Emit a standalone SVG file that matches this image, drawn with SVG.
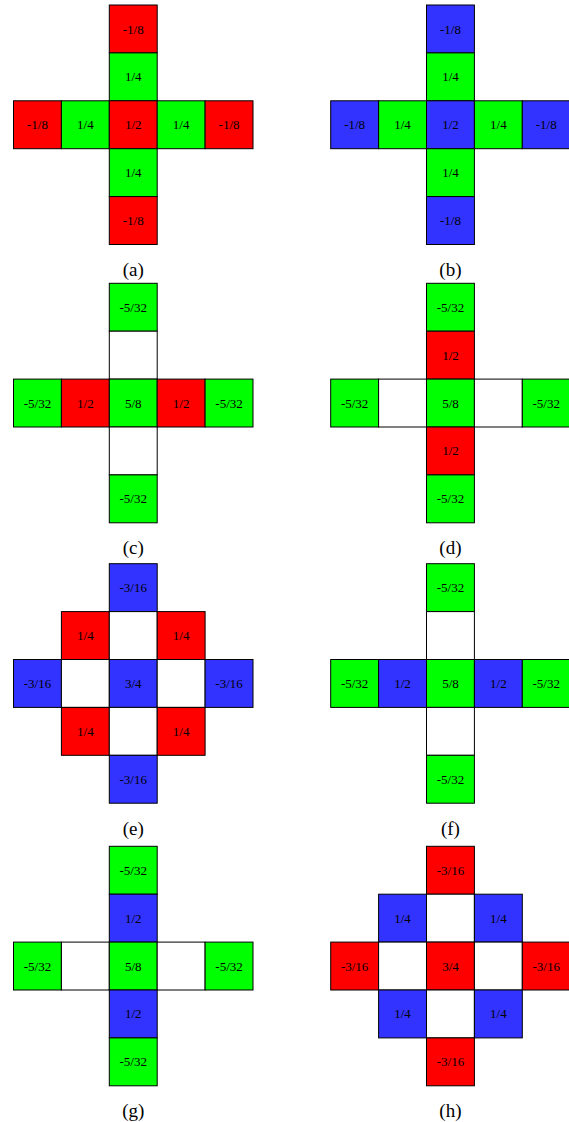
<svg xmlns="http://www.w3.org/2000/svg" width="569" height="1122" viewBox="0 0 569 1122">
<style>
.r,.g,.b,.w{stroke:#000;stroke-width:1}
.r{fill:#FF0000}.g{fill:#00FF00}.b{fill:#3333FF}.w{fill:#FFFFFF}
text{font-family:"Liberation Serif","Times New Roman",serif;fill:#000;text-anchor:middle}
.t{font-size:13px}
.cap{font-size:19px}
</style>
<g id="panel-a" transform="translate(13.5,5)">
<rect class="r" x="95.8" y="0" width="47.9" height="47.9"/><text class="t" x="119.75" y="28.5">-1/8</text>
<rect class="g" x="95.8" y="47.9" width="47.9" height="47.9"/><text class="t" x="119.75" y="76.4">1/4</text>
<rect class="r" x="0" y="95.8" width="47.9" height="47.9"/><text class="t" x="23.95" y="124.3">-1/8</text>
<rect class="g" x="47.9" y="95.8" width="47.9" height="47.9"/><text class="t" x="71.85" y="124.3">1/4</text>
<rect class="r" x="95.8" y="95.8" width="47.9" height="47.9"/><text class="t" x="119.75" y="124.3">1/2</text>
<rect class="g" x="143.7" y="95.8" width="47.9" height="47.9"/><text class="t" x="167.65" y="124.3">1/4</text>
<rect class="r" x="191.6" y="95.8" width="47.9" height="47.9"/><text class="t" x="215.55" y="124.3">-1/8</text>
<rect class="g" x="95.8" y="143.7" width="47.9" height="47.9"/><text class="t" x="119.75" y="172.2">1/4</text>
<rect class="r" x="95.8" y="191.6" width="47.9" height="47.9"/><text class="t" x="119.75" y="220.1">-1/8</text>
<text class="cap" x="119.75" y="271">(a)</text>
</g>
<g id="panel-b" transform="translate(330.7,5)">
<rect class="b" x="95.8" y="0" width="47.9" height="47.9"/><text class="t" x="119.75" y="28.5">-1/8</text>
<rect class="g" x="95.8" y="47.9" width="47.9" height="47.9"/><text class="t" x="119.75" y="76.4">1/4</text>
<rect class="b" x="0" y="95.8" width="47.9" height="47.9"/><text class="t" x="23.95" y="124.3">-1/8</text>
<rect class="g" x="47.9" y="95.8" width="47.9" height="47.9"/><text class="t" x="71.85" y="124.3">1/4</text>
<rect class="b" x="95.8" y="95.8" width="47.9" height="47.9"/><text class="t" x="119.75" y="124.3">1/2</text>
<rect class="g" x="143.7" y="95.8" width="47.9" height="47.9"/><text class="t" x="167.65" y="124.3">1/4</text>
<rect class="b" x="191.6" y="95.8" width="47.9" height="47.9"/><text class="t" x="215.55" y="124.3">-1/8</text>
<rect class="g" x="95.8" y="143.7" width="47.9" height="47.9"/><text class="t" x="119.75" y="172.2">1/4</text>
<rect class="b" x="95.8" y="191.6" width="47.9" height="47.9"/><text class="t" x="119.75" y="220.1">-1/8</text>
<text class="cap" x="119.75" y="271">(b)</text>
</g>
<g id="panel-c" transform="translate(13.5,283.3)">
<rect class="g" x="95.8" y="0" width="47.9" height="47.9"/><text class="t" x="119.75" y="28.5">-5/32</text>
<rect class="w" x="95.8" y="47.9" width="47.9" height="47.9"/>
<rect class="g" x="0" y="95.8" width="47.9" height="47.9"/><text class="t" x="23.95" y="124.3">-5/32</text>
<rect class="r" x="47.9" y="95.8" width="47.9" height="47.9"/><text class="t" x="71.85" y="124.3">1/2</text>
<rect class="g" x="95.8" y="95.8" width="47.9" height="47.9"/><text class="t" x="119.75" y="124.3">5/8</text>
<rect class="r" x="143.7" y="95.8" width="47.9" height="47.9"/><text class="t" x="167.65" y="124.3">1/2</text>
<rect class="g" x="191.6" y="95.8" width="47.9" height="47.9"/><text class="t" x="215.55" y="124.3">-5/32</text>
<rect class="w" x="95.8" y="143.7" width="47.9" height="47.9"/>
<rect class="g" x="95.8" y="191.6" width="47.9" height="47.9"/><text class="t" x="119.75" y="220.1">-5/32</text>
<text class="cap" x="119.75" y="271">(c)</text>
</g>
<g id="panel-d" transform="translate(330.7,283.3)">
<rect class="g" x="95.8" y="0" width="47.9" height="47.9"/><text class="t" x="119.75" y="28.5">-5/32</text>
<rect class="r" x="95.8" y="47.9" width="47.9" height="47.9"/><text class="t" x="119.75" y="76.4">1/2</text>
<rect class="g" x="0" y="95.8" width="47.9" height="47.9"/><text class="t" x="23.95" y="124.3">-5/32</text>
<rect class="w" x="47.9" y="95.8" width="47.9" height="47.9"/>
<rect class="g" x="95.8" y="95.8" width="47.9" height="47.9"/><text class="t" x="119.75" y="124.3">5/8</text>
<rect class="w" x="143.7" y="95.8" width="47.9" height="47.9"/>
<rect class="g" x="191.6" y="95.8" width="47.9" height="47.9"/><text class="t" x="215.55" y="124.3">-5/32</text>
<rect class="r" x="95.8" y="143.7" width="47.9" height="47.9"/><text class="t" x="119.75" y="172.2">1/2</text>
<rect class="g" x="95.8" y="191.6" width="47.9" height="47.9"/><text class="t" x="119.75" y="220.1">-5/32</text>
<text class="cap" x="119.75" y="271">(d)</text>
</g>
<g id="panel-e" transform="translate(13.5,563.7)">
<rect class="b" x="95.8" y="0" width="47.9" height="47.9"/><text class="t" x="119.75" y="28.5">-3/16</text>
<rect class="r" x="47.9" y="47.9" width="47.9" height="47.9"/><text class="t" x="71.85" y="76.4">1/4</text>
<rect class="w" x="95.8" y="47.9" width="47.9" height="47.9"/>
<rect class="r" x="143.7" y="47.9" width="47.9" height="47.9"/><text class="t" x="167.65" y="76.4">1/4</text>
<rect class="b" x="0" y="95.8" width="47.9" height="47.9"/><text class="t" x="23.95" y="124.3">-3/16</text>
<rect class="w" x="47.9" y="95.8" width="47.9" height="47.9"/>
<rect class="b" x="95.8" y="95.8" width="47.9" height="47.9"/><text class="t" x="119.75" y="124.3">3/4</text>
<rect class="w" x="143.7" y="95.8" width="47.9" height="47.9"/>
<rect class="b" x="191.6" y="95.8" width="47.9" height="47.9"/><text class="t" x="215.55" y="124.3">-3/16</text>
<rect class="r" x="47.9" y="143.7" width="47.9" height="47.9"/><text class="t" x="71.85" y="172.2">1/4</text>
<rect class="w" x="95.8" y="143.7" width="47.9" height="47.9"/>
<rect class="r" x="143.7" y="143.7" width="47.9" height="47.9"/><text class="t" x="167.65" y="172.2">1/4</text>
<rect class="b" x="95.8" y="191.6" width="47.9" height="47.9"/><text class="t" x="119.75" y="220.1">-3/16</text>
<text class="cap" x="119.75" y="271">(e)</text>
</g>
<g id="panel-f" transform="translate(330.7,563.7)">
<rect class="g" x="95.8" y="0" width="47.9" height="47.9"/><text class="t" x="119.75" y="28.5">-5/32</text>
<rect class="w" x="95.8" y="47.9" width="47.9" height="47.9"/>
<rect class="g" x="0" y="95.8" width="47.9" height="47.9"/><text class="t" x="23.95" y="124.3">-5/32</text>
<rect class="b" x="47.9" y="95.8" width="47.9" height="47.9"/><text class="t" x="71.85" y="124.3">1/2</text>
<rect class="g" x="95.8" y="95.8" width="47.9" height="47.9"/><text class="t" x="119.75" y="124.3">5/8</text>
<rect class="b" x="143.7" y="95.8" width="47.9" height="47.9"/><text class="t" x="167.65" y="124.3">1/2</text>
<rect class="g" x="191.6" y="95.8" width="47.9" height="47.9"/><text class="t" x="215.55" y="124.3">-5/32</text>
<rect class="w" x="95.8" y="143.7" width="47.9" height="47.9"/>
<rect class="g" x="95.8" y="191.6" width="47.9" height="47.9"/><text class="t" x="119.75" y="220.1">-5/32</text>
<text class="cap" x="119.75" y="271">(f)</text>
</g>
<g id="panel-g" transform="translate(13.5,846.3)">
<rect class="g" x="95.8" y="0" width="47.9" height="47.9"/><text class="t" x="119.75" y="28.5">-5/32</text>
<rect class="b" x="95.8" y="47.9" width="47.9" height="47.9"/><text class="t" x="119.75" y="76.4">1/2</text>
<rect class="g" x="0" y="95.8" width="47.9" height="47.9"/><text class="t" x="23.95" y="124.3">-5/32</text>
<rect class="w" x="47.9" y="95.8" width="47.9" height="47.9"/>
<rect class="g" x="95.8" y="95.8" width="47.9" height="47.9"/><text class="t" x="119.75" y="124.3">5/8</text>
<rect class="w" x="143.7" y="95.8" width="47.9" height="47.9"/>
<rect class="g" x="191.6" y="95.8" width="47.9" height="47.9"/><text class="t" x="215.55" y="124.3">-5/32</text>
<rect class="b" x="95.8" y="143.7" width="47.9" height="47.9"/><text class="t" x="119.75" y="172.2">1/2</text>
<rect class="g" x="95.8" y="191.6" width="47.9" height="47.9"/><text class="t" x="119.75" y="220.1">-5/32</text>
<text class="cap" x="119.75" y="271">(g)</text>
</g>
<g id="panel-h" transform="translate(330.7,846.3)">
<rect class="r" x="95.8" y="0" width="47.9" height="47.9"/><text class="t" x="119.75" y="28.5">-3/16</text>
<rect class="b" x="47.9" y="47.9" width="47.9" height="47.9"/><text class="t" x="71.85" y="76.4">1/4</text>
<rect class="w" x="95.8" y="47.9" width="47.9" height="47.9"/>
<rect class="b" x="143.7" y="47.9" width="47.9" height="47.9"/><text class="t" x="167.65" y="76.4">1/4</text>
<rect class="r" x="0" y="95.8" width="47.9" height="47.9"/><text class="t" x="23.95" y="124.3">-3/16</text>
<rect class="w" x="47.9" y="95.8" width="47.9" height="47.9"/>
<rect class="r" x="95.8" y="95.8" width="47.9" height="47.9"/><text class="t" x="119.75" y="124.3">3/4</text>
<rect class="w" x="143.7" y="95.8" width="47.9" height="47.9"/>
<rect class="r" x="191.6" y="95.8" width="47.9" height="47.9"/><text class="t" x="215.55" y="124.3">-3/16</text>
<rect class="b" x="47.9" y="143.7" width="47.9" height="47.9"/><text class="t" x="71.85" y="172.2">1/4</text>
<rect class="w" x="95.8" y="143.7" width="47.9" height="47.9"/>
<rect class="b" x="143.7" y="143.7" width="47.9" height="47.9"/><text class="t" x="167.65" y="172.2">1/4</text>
<rect class="r" x="95.8" y="191.6" width="47.9" height="47.9"/><text class="t" x="119.75" y="220.1">-3/16</text>
<text class="cap" x="119.75" y="271">(h)</text>
</g>
<g id="connectors"/>
</svg>
